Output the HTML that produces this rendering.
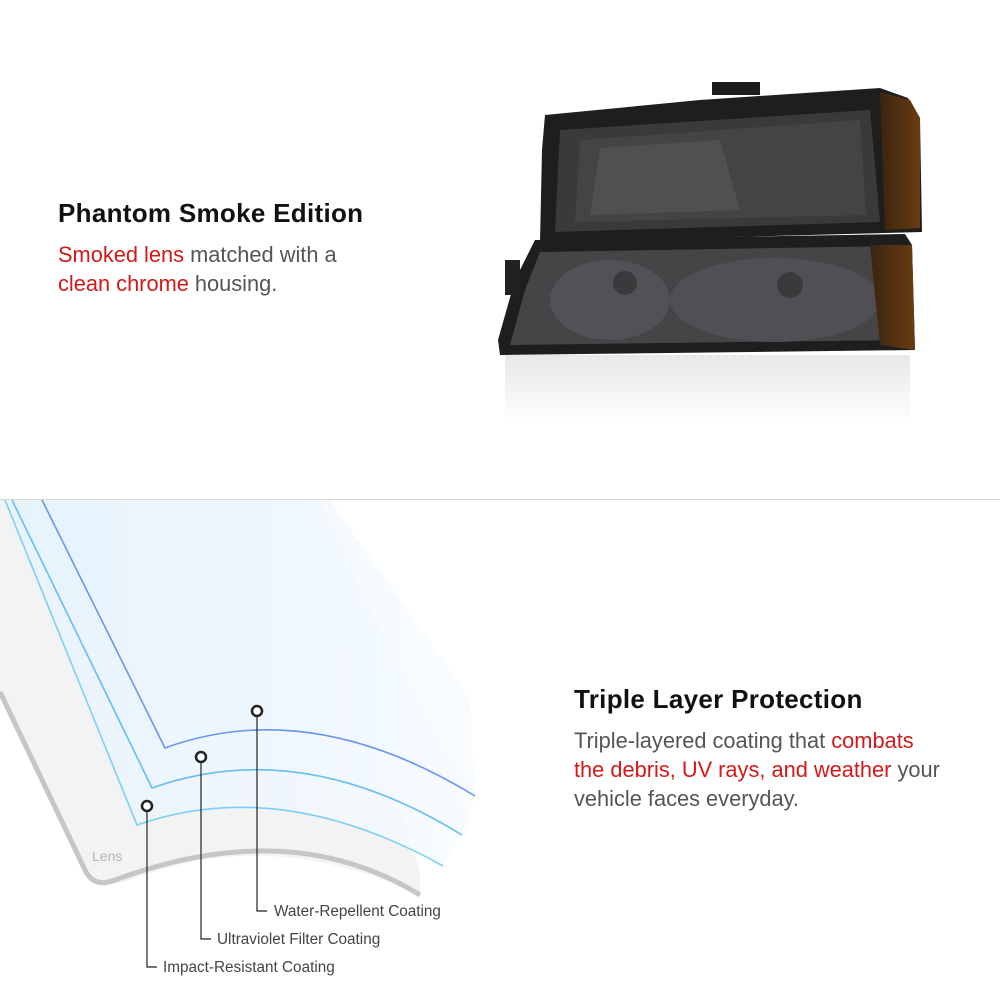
<!DOCTYPE html>
<html><head><meta charset="utf-8"><style>
html,body{margin:0;padding:0;background:#fff;}
body{width:1000px;height:1000px;position:relative;overflow:hidden;font-family:"Liberation Sans",sans-serif;}
.h{position:absolute;font-size:26px;color:#111;font-weight:bold;letter-spacing:0.3px}
.p{position:absolute;font-size:21.8px;color:#555;line-height:29px}
.r{color:#d11a1a}
</style></head><body>
<svg width="1000" height="1000" style="position:absolute;left:0;top:0">
<defs>
<linearGradient id="lg" x1="0" y1="0" x2="1" y2="0"><stop offset="0" stop-color="#e6f3fd"/><stop offset="1" stop-color="#f6fbff"/></linearGradient>
<linearGradient id="amb" x1="0" y1="0" x2="1" y2="0"><stop offset="0" stop-color="#3a2410"/><stop offset="1" stop-color="#6a3c12"/></linearGradient>
<linearGradient id="refl" x1="0" y1="0" x2="0" y2="1"><stop offset="0" stop-color="#e8e8e8"/><stop offset="1" stop-color="#fff"/></linearGradient>
</defs>
<line x1="0" y1="499.5" x2="1000" y2="499.5" stroke="#d8d8d8"/>
<!-- headlight -->
<rect x="505" y="355" width="405" height="70" fill="url(#refl)"/>
<path d="M712 82 L760 82 L760 95 L712 95Z" fill="#1c1c1c"/>
<path d="M545 115 L700 100 L880 88 L908 98 L920 118 L922 232 L540 242 L542 150Z" fill="#1e1e1e"/>
<path d="M560 130 L870 110 L880 222 L555 232Z" fill="#3a3a3c"/>
<path d="M580 140 L860 120 L866 215 L575 222Z" fill="#444447"/>
<path d="M600 148 L720 140 L740 210 L590 215Z" fill="#505053"/>
<path d="M880 92 L910 100 L920 118 L920 228 L885 230Z" fill="url(#amb)"/>
<path d="M535 240 L905 234 L912 245 L915 350 L500 355 L498 340 L515 280Z" fill="#1e1e1e"/>
<path d="M540 252 L900 246 L905 340 L510 345 L525 290Z" fill="#454548"/>
<ellipse cx="610" cy="300" rx="60" ry="40" fill="#525256"/>
<ellipse cx="775" cy="300" rx="105" ry="42" fill="#505054"/>
<circle cx="625" cy="283" r="12" fill="#3a3a3d"/><circle cx="790" cy="285" r="13" fill="#3a3a3d"/>
<path d="M870 245 L912 245 L915 350 L880 345Z" fill="url(#amb)"/>
<rect x="505" y="260" width="15" height="35" fill="#222"/>
<!-- lens -->
<path d="M0 500 L0 690 L88 875 Q100 890 130 880 Q270 825 420 895 L420 870 L300 500Z" fill="#f3f3f3"/>
<path d="M0 692 L86 872 Q95 888 115 880 Q290 815 420 895" fill="none" stroke="#c6c6c6" stroke-width="5"/>
<path d="M5 500 L137 825 Q280 775 443 866 L470 820 L320 500Z" fill="url(#lg)" opacity="0.8"/>
<path d="M12 500 L152 788 Q300 735 462 835 L475 796 L300 500Z" fill="url(#lg)" opacity="0.7"/>
<path d="M42 500 L165 748 Q310 695 475 796 L470 700 L330 500Z" fill="url(#lg)" opacity="0.7"/>
<path d="M5 500 L137 825 Q280 775 443 866" fill="none" stroke="#7cd0f6" stroke-width="1.6"/>
<path d="M12 500 L152 788 Q300 735 462 835" fill="none" stroke="#65bdf2" stroke-width="1.6"/>
<path d="M42 500 L165 748 Q310 695 475 796" fill="none" stroke="#6a94ee" stroke-width="1.6"/>
<text x="92" y="861" font-family="Liberation Sans" font-size="14" fill="#b5b5b5">Lens</text>
<g stroke="#222" fill="none" stroke-width="1.2">
<path d="M257 716 V911 H267"/><path d="M201 762 V939 H211"/><path d="M147 811 V967 H157"/>
</g>
<g stroke="#222" fill="#fff" stroke-width="2.5">
<circle cx="257" cy="711" r="5"/><circle cx="201" cy="757" r="5"/><circle cx="147" cy="806" r="5"/>
</g>
<g font-family="Liberation Sans" font-size="15.3" fill="#444">
<text x="274" y="916">Water-Repellent Coating</text>
<text x="217" y="944">Ultraviolet Filter Coating</text>
<text x="163" y="972">Impact-Resistant Coating</text>
</g>
</svg>
<div class="h" style="left:58px;top:198px">Phantom Smoke Edition</div>
<div class="p" style="left:58px;top:240px"><span class="r">Smoked lens</span> matched with a<br><span class="r">clean chrome</span> housing.</div>
<div class="h" style="left:574px;top:684px">Triple Layer Protection</div>
<div class="p" style="left:574px;top:726px">Triple-layered coating that <span class="r">combats</span><br><span class="r">the debris, UV rays, and weather</span> your<br>vehicle faces everyday.</div>
</body></html>
